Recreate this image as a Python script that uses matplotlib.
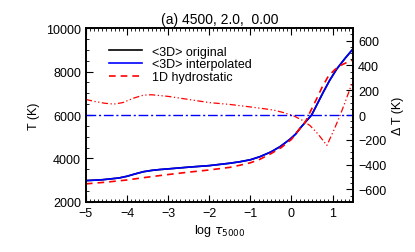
import numpy as np
import matplotlib.pyplot as plt
from matplotlib.ticker import MultipleLocator

plt.rcParams['font.family'] = ['Liberation Sans', 'DejaVu Sans']

# <3D> temperature structure (original and interpolated coincide)
logtau_3d = [-5.0, -4.6, -4.2, -4.0, -3.8, -3.6, -3.4, -3.2, -3.0, -2.5, -2.0, -1.5,
             -1.25, -1.0, -0.77, -0.5, -0.28, -0.04, 0.1, 0.21, 0.35, 0.49, 0.63,
             0.77, 0.93, 1.1, 1.3, 1.5]
t_3d = [2980, 3020, 3100, 3180, 3290, 3390, 3450, 3490, 3520, 3600, 3670, 3780,
        3850, 3940, 4080, 4300, 4540, 4880, 5120, 5390, 5700, 6000, 6520,
        7040, 7600, 8115, 8600, 9050]

# 1D hydrostatic model
logtau_1d = [-5.0, -4.5, -4.0, -3.5, -3.0, -2.5, -2.0, -1.5, -1.25, -1.0, -0.77,
             -0.5, -0.25, 0.0, 0.15, 0.33, 0.47, 0.61, 0.75, 0.9, 1.05, 1.18,
             1.35, 1.5]
t_1d = [2830, 2910, 3010, 3140, 3260, 3370, 3470, 3590, 3690, 3800, 3960,
        4220, 4500, 4880, 5250, 5660, 6200, 6740, 7300, 7800, 8080, 8270,
        8420, 8540]

# temperature difference (right axis)
logtau_dt = [-5.0, -4.8, -4.55, -4.32, -4.1, -3.85, -3.6, -3.4, -3.0, -2.5, -2.0,
             -1.5, -1.25, -1.0, -0.7, -0.44, -0.2, 0.04, 0.25, 0.45, 0.65, 0.86,
             1.02, 1.18, 1.3, 1.42, 1.5]
dt = [125, 110, 95, 88, 100, 135, 160, 163, 150, 125, 100,
      85, 75, 65, 52, 40, 20, -5, -40, -85, -155, -245,
      -130, -5, 100, 208, 280]

fig = plt.figure(figsize=(4.15, 2.53), dpi=100)
ax = fig.add_axes([0.207, 0.198, 0.644, 0.687])

ax.plot(logtau_3d, t_3d, color='black', lw=1.2, label='<3D> original')
ax.plot(logtau_3d, t_3d, color='blue', lw=1.2, label='<3D> interpolated')
ax.plot(logtau_1d, t_1d, color='red', lw=1.2, ls=(0, (4, 3)), label='1D hydrostatic')

ax.set_xlim(-5, 1.5)
ax.set_ylim(2000, 10000)
ax.xaxis.set_major_locator(MultipleLocator(1))
ax.xaxis.set_minor_locator(MultipleLocator(0.1))
ax.yaxis.set_major_locator(MultipleLocator(2000))
ax.yaxis.set_minor_locator(MultipleLocator(500))
ax.tick_params(which='both', direction='in', top=True, right=False, labelsize=9)
ax.tick_params(which='major', length=5)
ax.tick_params(which='minor', length=2.5)
ax.xaxis.set_major_formatter(plt.FuncFormatter(lambda v, p: f'{v:.0f}'.replace('-', '\u2212')))
ax.set_xlabel(r'log $\tau_{5000}$', fontsize=9, labelpad=2)
ax.set_ylabel('T (K)', fontsize=9)
ax.set_title('(a) 4500, 2.0,  0.00', fontsize=10, pad=4)

ax2 = ax.twinx()
ax2.plot(logtau_dt, dt, color='red', lw=0.9, ls=(0, (5, 2, 1, 2, 1, 2)))
ax2.axhline(0, color='blue', lw=1.0, ls=(0, (7, 2, 1.5, 2)))
ax2.set_ylim(-700, 700)
ax2.yaxis.set_major_locator(MultipleLocator(200))
ax2.yaxis.set_minor_locator(MultipleLocator(50))
ax2.tick_params(which='both', direction='in', labelsize=9)
ax2.tick_params(which='major', length=5)
ax2.tick_params(which='minor', length=2.5)
ax2.set_ylabel('\u0394 T (K)', fontsize=9)

for a in (ax, ax2):
    for s in a.spines.values():
        s.set_linewidth(1.2)

ax.legend(loc='upper left', frameon=False, fontsize=9, handlelength=2.6,
          labelspacing=0.05, borderaxespad=0.6, bbox_to_anchor=(0.04, 0.97))

fig.savefig('out.png', dpi=100)
